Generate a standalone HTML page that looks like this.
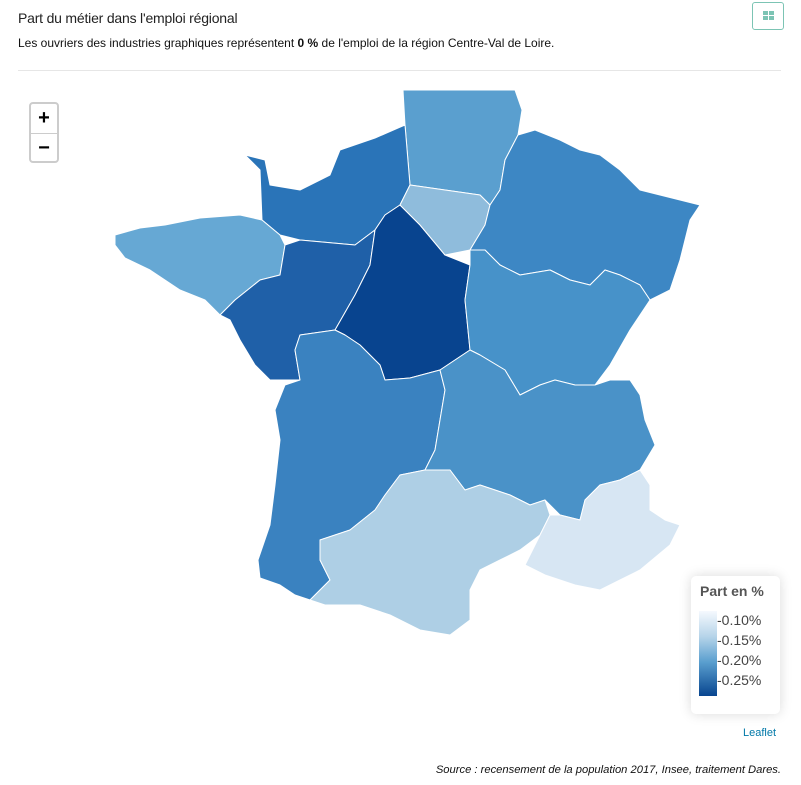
<!DOCTYPE html>
<html><head><meta charset="utf-8"><style>
body{margin:0;width:801px;height:785px;background:#fff;font-family:"Liberation Sans",sans-serif;position:relative;overflow:hidden}
.t{position:absolute;left:18px;top:10px;font-size:14px;color:#222;letter-spacing:-0.2px}
.s{position:absolute;left:18px;top:36px;font-size:12px;color:#111}
.btn{position:absolute;left:752px;top:2px;width:32px;height:28px;border:1px solid #7cc4b4;border-radius:3px;box-sizing:border-box}
.hr{position:absolute;left:18px;top:70px;width:763px;height:1px;background:#e6e6e6}
.zoom{position:absolute;left:29px;top:102px;width:30px;height:61px;border:2px solid #ccc;border-radius:4px;background:#fff;box-sizing:border-box}
.zoom div{height:29px;text-align:center;font:bold 20px/28px "Liberation Sans",sans-serif;color:#000}
.leg{position:absolute;left:691px;top:576px;width:89px;height:138px;background:#fff;border-radius:5px;box-shadow:0 0 12px rgba(0,0,0,.15)}
.leg h{position:absolute;left:9px;top:7px;font-weight:bold;font-size:14px;color:#555}
.bar{position:absolute;left:8px;top:35px;width:18px;height:85px;background:linear-gradient(#f5f9fe,#b6d4e9 30%,#5a9fcf 60%,#08458f)}
.lb{position:absolute;left:26px;font-size:14px;color:#444}
.src{position:absolute;right:20px;top:764px;font-size:11.2px;font-style:italic;color:#111}
.lf{position:absolute;left:743px;top:727px;font-size:11px;color:#0078a8}
</style></head><body>
<div class="t">Part du métier dans l'emploi régional</div>
<div class="s">Les ouvriers des industries graphiques représentent <b>0 %</b> de l'emploi de la région Centre-Val de Loire.</div>
<div class="btn"><svg width="30" height="26"><rect x="10" y="8" width="11" height="9" fill="#7cc4b4"/><path d="M10 12.5H21M15.5 8V17" stroke="#fff" stroke-width="1"/></svg></div>
<div class="hr"></div>
<svg style="position:absolute;left:0;top:0" width="801" height="785">
<g stroke="#fff" stroke-width="1" stroke-linejoin="round">
<polygon fill="#5a9fcf" points="403,90 515,90 522,110 518,135 505,160 500,190 490,205 480,195 410,185 405,125"/>
<polygon fill="#2a74b8" points="245,155 265,160 270,185 300,190 330,175 340,150 375,138 405,125 410,185 400,205 385,215 375,230 355,245 300,240 280,235 262,220 260,170"/>
<polygon fill="#66a8d4" points="115,235 140,228 165,225 200,218 240,215 262,220 280,235 285,245 280,275 260,280 235,300 220,315 205,300 180,290 150,270 125,258 115,245"/>
<polygon fill="#1f60a8" points="285,245 300,240 355,245 375,230 370,265 355,295 335,330 300,335 295,350 300,380 270,380 255,365 240,340 230,320 220,315 235,300 260,280 280,275"/>
<polygon fill="#08448f" points="375,230 385,215 400,205 420,225 445,255 470,265 465,300 470,350 440,370 410,378 385,380 380,365 360,345 345,335 335,330 355,295 370,265"/>
<polygon fill="#8fbcdc" points="400,205 410,185 480,195 490,205 485,225 470,250 445,255 420,225"/>
<polygon fill="#3d87c4" points="518,135 535,130 560,140 580,150 600,155 620,170 640,190 700,205 690,220 680,260 670,290 650,300 640,285 620,275 605,270 590,285 570,280 550,270 520,275 500,265 485,250 470,250 485,225 490,205 500,190 505,160"/>
<polygon fill="#4792c9" points="470,250 485,250 500,265 520,275 550,270 570,280 590,285 605,270 620,275 640,285 650,300 630,330 610,365 595,385 575,385 555,380 540,385 520,395 505,370 480,355 470,350 465,300 470,265"/>
<polygon fill="#3a82c0" points="300,335 335,330 345,335 360,345 380,365 385,380 410,378 440,370 445,390 440,420 435,450 425,470 400,475 385,495 375,510 350,530 320,540 320,560 330,580 310,600 295,595 280,585 260,578 258,560 270,525 275,485 280,440 275,410 285,385 300,380 295,350"/>
<polygon fill="#4a92c8" points="440,370 470,350 480,355 505,370 520,395 540,385 555,380 575,385 595,385 610,380 630,380 640,395 645,420 655,445 640,470 620,480 600,485 585,500 580,520 560,515 545,500 530,505 510,495 480,485 465,490 450,470 425,470 435,450 440,420 445,390"/>
<polygon fill="#aecfe5" points="320,540 350,530 375,510 385,495 400,475 425,470 450,470 465,490 480,485 510,495 530,505 545,500 550,515 540,535 520,550 500,560 480,570 470,590 470,620 450,635 420,630 390,615 360,605 325,605 310,600 330,580 320,560"/>
<polygon fill="#d7e6f3" points="550,515 560,515 580,520 585,500 600,485 620,480 640,470 650,485 650,510 665,520 680,525 670,545 640,570 620,580 600,590 575,585 545,575 525,565 540,535"/>
</g></svg>
<div class="zoom"><div style="border-bottom:1px solid #ccc">+</div><div>−</div></div>
<div class="leg"><h>Part en %</h><div class="bar"></div>
<div class="lb" style="top:36px">-0.10%</div><div class="lb" style="top:56px">-0.15%</div><div class="lb" style="top:76px">-0.20%</div><div class="lb" style="top:96px">-0.25%</div></div>
<div class="lf">Leaflet</div>
<div class="src">Source : recensement de la population 2017, Insee, traitement Dares.</div>
</body></html>
